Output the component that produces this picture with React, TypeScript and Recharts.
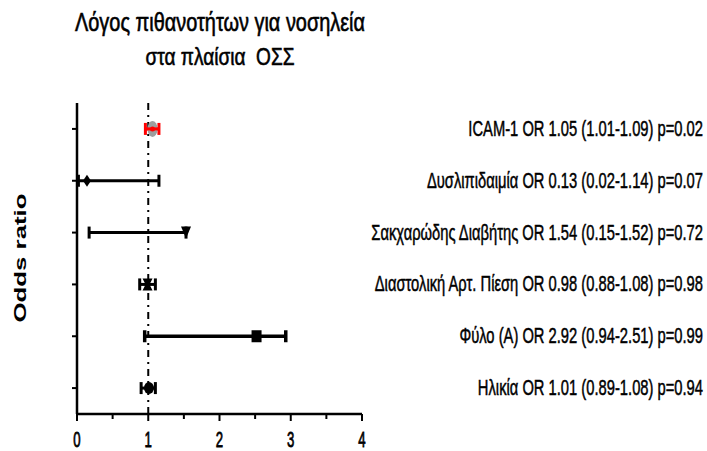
import React from 'react';
import { ScatterChart, Scatter, XAxis, YAxis, ErrorBar, ReferenceLine } from 'recharts';

// rows listed top to bottom
const labels = [
  'ICAM-1 OR 1.05 (1.01-1.09) p=0.02',
  'Δυσλιπιδαιμία OR 0.13 (0.02-1.14) p=0.07',
  'Σακχαρώδης Διαβήτης OR 1.54 (0.15-1.52) p=0.72',
  'Διαστολική Αρτ. Πίεση OR 0.98 (0.88-1.08) p=0.98',
  'Φύλο (Α) OR 2.92 (0.94-2.51) p=0.99',
  'Ηλικία OR 1.01 (0.89-1.08) p=0.94',
];
const rowPos = [6, 5, 4, 3, 2, 1];
const oddsRatio = [1.06, 0.14, 1.53, 0.99, 2.52, 1.01];
const ciLow = [0.96, 0.02, 0.17, 0.88, 0.95, 0.9];
const ciHigh = [1.15, 1.15, 1.53, 1.1, 2.93, 1.1];
const markers = ['icam', 'diamond', 'triangleDown', 'star', 'square', 'circle'];

const xTicks = [0, 0.5, 1, 1.5, 2, 2.5, 3, 3.5, 4];
const yTicks = [1, 2, 3, 4, 5, 6];

const FONT = '"Liberation Sans", Arial, sans-serif';

const Marker = ({ cx, cy, kind }: any) => {
  if (cx == null || cy == null) return null;
  switch (kind) {
    case 'icam':
      return (
        <g>
          <ellipse cx={cx} cy={cy} rx={5} ry={8} fill="#9e9e9e" />
          <line x1={cx - 6} x2={cx + 6} y1={cy} y2={cy} stroke="#ff0000" strokeWidth={3} />
          <circle cx={cx} cy={cy} r={2.5} fill="#ff0000" />
        </g>
      );
    case 'diamond':
      return <path d={`M${cx},${cy - 6} L${cx + 4},${cy} L${cx},${cy + 6} L${cx - 4},${cy} Z`} fill="#000" />;
    case 'triangleDown':
      return <path d={`M${cx - 5},${cy - 6} L${cx + 5},${cy - 6} L${cx},${cy + 6} Z`} fill="#000" />;
    case 'star':
      return (
        <path
          d={`M${cx - 5},${cy - 6} L${cx + 5},${cy - 6} L${cx + 2},${cy} L${cx + 5},${cy + 6} L${cx - 5},${cy + 6} L${cx - 2},${cy} Z`}
          fill="#000"
        />
      );
    case 'square':
      return <rect x={cx - 5} y={cy - 6} width={10} height={12} fill="#000" />;
    default:
      return <ellipse cx={cx} cy={cy} rx={5} ry={6} fill="#000" />;
  }
};

const XTick = ({ x, y, payload }: any) => {
  const major = Number.isInteger(payload.value);
  return (
    <g transform={`translate(${x},${y})`}>
      <line x1={0} x2={0} y1={0} y2={major ? 7 : 5} stroke="#000" strokeWidth={2} />
      {major && (
        <text
          transform="scale(0.6,1)"
          y={33}
          textAnchor="middle"
          fontSize={22}
          fontFamily={FONT}
          fill="#000"
          stroke="#000"
          strokeWidth={0.8}
        >
          {payload.value}
        </text>
      )}
    </g>
  );
};

const RowLabel = ({ x, y, payload }: any) => (
  <g transform={`translate(${x + 341},${y + 7})`}>
    <text
      transform="scale(0.67,1)"
      textAnchor="end"
      fontSize={22}
      fontFamily={FONT}
      fill="#000"
      stroke="#000"
      strokeWidth={0.5}
    >
      {labels[6 - payload.value]}
    </text>
  </g>
);

export default function App() {
  return (
    <div style={{ position: 'absolute', left: 0, top: 0, width: 707, height: 451, background: '#fff' }}>
      <ScatterChart width={707} height={451} margin={{ top: 103, right: 0, bottom: 0, left: 0 }}>
        <XAxis
          type="number"
          dataKey="x"
          domain={[0, 4]}
          ticks={xTicks}
          interval={0}
          height={37}
          axisLine={{ stroke: '#000', strokeWidth: 2.5 }}
          tickLine={false}
          tickSize={0}
          tickMargin={0}
          tick={<XTick />}
        />
        <YAxis
          type="number"
          dataKey="y"
          domain={[0.5, 6.5]}
          ticks={yTicks}
          width={77}
          axisLine={{ stroke: '#000', strokeWidth: 2.5 }}
          tickLine={{ stroke: '#000', strokeWidth: 2 }}
          tickSize={5}
          tick={() => <g />}
        />
        <YAxis
          yAxisId="right"
          orientation="right"
          type="number"
          dataKey="y"
          domain={[0.5, 6.5]}
          ticks={yTicks}
          interval={0}
          width={345}
          axisLine={false}
          tickLine={false}
          tickSize={0}
          tickMargin={0}
          tick={<RowLabel />}
        />
        <ReferenceLine x={1} stroke="#000" strokeWidth={2} strokeDasharray="7 5 2 5" />
        {/* invisible series so the label axis on the right gets drawn */}
        <Scatter
          yAxisId="right"
          data={rowPos.map((r, i) => ({ x: oddsRatio[i], y: r }))}
          isAnimationActive={false}
          shape={() => <g />}
        />
        {labels.map((name, i) => (
          <Scatter
            key={name}
            name={name}
            data={[{ x: oddsRatio[i], y: rowPos[i], err: [oddsRatio[i] - ciLow[i], ciHigh[i] - oddsRatio[i]] }]}
            isAnimationActive={false}
            shape={(p: any) => <Marker cx={p.cx} cy={p.cy} kind={markers[i]} />}
          >
            <ErrorBar
              dataKey="err"
              direction="x"
              width={6}
              stroke={i === 0 ? '#ff0000' : '#000'}
              strokeWidth={i === 4 ? 3.5 : 3}
            />
          </Scatter>
        ))}
      </ScatterChart>
      <svg width={707} height={451} style={{ position: 'absolute', left: 0, top: 0, pointerEvents: 'none' }}>
        <text
          x={220}
          y={31}
          textAnchor="middle"
          fontSize={25}
          fontFamily={FONT}
          fill="#000"
          stroke="#000"
          strokeWidth={0.6}
          textLength={290}
          lengthAdjust="spacingAndGlyphs"
        >
          Λόγος πιθανοτήτων για νοσηλεία
        </text>
        <text
          x={220}
          y={65}
          textAnchor="middle"
          fontSize={24}
          fontFamily={FONT}
          fill="#000"
          stroke="#000"
          strokeWidth={0.6}
          textLength={149}
          lengthAdjust="spacingAndGlyphs"
          style={{ whiteSpace: 'pre' }}
        >
          στα πλαίσια  ΟΣΣ
        </text>
        <text
          transform="translate(26,258) rotate(-90)"
          textAnchor="middle"
          fontSize={17}
          fontWeight="bold"
          fontFamily={FONT}
          fill="#000"
          textLength={129}
          lengthAdjust="spacingAndGlyphs"
        >
          Odds ratio
        </text>
      </svg>
    </div>
  );
}
